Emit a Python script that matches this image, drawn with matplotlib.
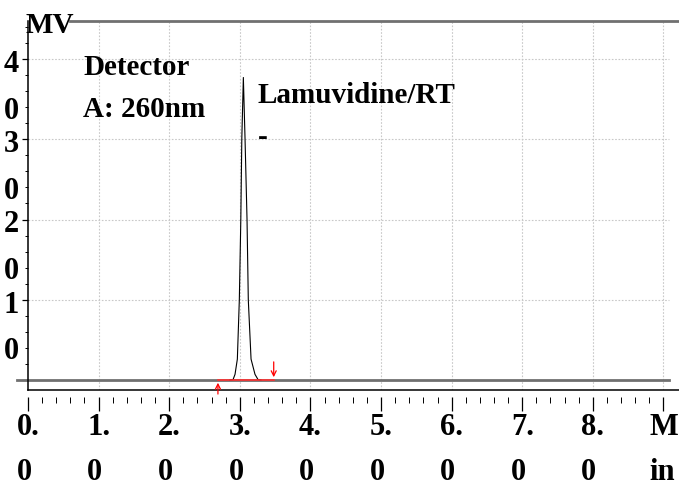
import matplotlib
matplotlib.use('Agg')
import matplotlib.pyplot as plt
from matplotlib.ticker import FixedLocator, NullFormatter

plt.rcParams['font.family'] = ['Liberation Serif', 'DejaVu Serif']
plt.rcParams['font.weight'] = 'bold'

# peak trace (time in min, signal in mV)
peak_time = [2.86, 2.904, 2.932, 2.965, 2.993, 3.014, 3.028, 3.050, 3.074, 3.102, 3.120, 3.159, 3.215, 3.258, 3.30]
peak_mv = [0.0, 0.05, 0.7, 2.6, 10.0, 20.0, 30.0, 37.7, 30.0, 20.0, 10.0, 2.6, 0.7, 0.05, 0.0]

# integration marks
peak_start = 2.69
peak_end = 3.48

x_ticks = [0, 1, 2, 3, 4, 5, 6, 7, 8, 9]
x_labels = ['0.\n0', '1.\n0', '2.\n0', '3.\n0', '4.\n0', '5.\n0', '6.\n0', '7.\n0', '8.\n0', 'M\nin']
y_ticks = [0, 10, 20, 30, 40]
y_labels = ['', '1\n0', '2\n0', '3\n0', '4\n0']

x_max = 9.22
y_min, y_max = -1.25, 44.74

fig = plt.figure(figsize=(6.79, 4.85), dpi=100)
ax = fig.add_axes([28 / 679, 1 - 391 / 485, 1 - 28 / 679, (391 - 22) / 485])
ax.set_xlim(0, x_max)
ax.set_ylim(y_min, y_max)

# grid
for t in x_ticks[1:]:
    ax.axvline(t, color='#c8c8c8', lw=0.8, ls=(0, (1.5, 1.5)), zorder=0)
for v in y_ticks[1:]:
    ax.plot([0, 9.08], [v, v], color='#c8c8c8', lw=0.8, ls=(0, (1.5, 1.5)), zorder=0)

# baseline and top frame line
ax.plot([-0.15, 9.08], [0, 0], color='#707070', lw=2.0, clip_on=False, zorder=2)
ax.plot([0.6, x_max], [y_max, y_max], color='#707070', lw=2.0, clip_on=False)

# signal
ax.plot(peak_time, peak_mv, color='black', lw=0.8, zorder=3)

# integration baseline and markers
ax.plot([peak_start, peak_end], [0, 0], color='#ff3030', lw=1.2, zorder=4)
ax.annotate('', xy=(peak_start, 0), xytext=(peak_start, -2.1),
            arrowprops=dict(arrowstyle='->', color='red', lw=0.9, mutation_scale=9),
            annotation_clip=False, zorder=5)
ax.annotate('', xy=(peak_end, 0), xytext=(peak_end, 2.6),
            arrowprops=dict(arrowstyle='->', color='red', lw=0.9, mutation_scale=9),
            annotation_clip=False, zorder=5)

# spines
for s in ['top', 'right']:
    ax.spines[s].set_visible(False)
ax.spines['left'].set_linewidth(1.1)
ax.spines['bottom'].set_visible(False)
ax.spines['bottom'].set_position(('outward', 5))
ax.plot([0, 1], [0, 0], transform=ax.transAxes, color='black', lw=1.1, clip_on=False)

# ticks
ax.xaxis.set_major_locator(FixedLocator(x_ticks))
ax.xaxis.set_minor_locator(FixedLocator([i * 0.2 for i in range(46) if i % 5 != 0]))
ax.set_xticklabels(x_labels)
ax.tick_params(axis='x', which='major', direction='out', length=10, width=0.9, pad=1, labelsize=22)
ax.tick_params(axis='x', which='minor', direction='out', length=4.5, width=0.7)
for lbl in ax.get_xticklabels():
    lbl.set_multialignment('left')
    lbl.set_linespacing(1.7)

ax.yaxis.set_major_locator(FixedLocator(y_ticks))
ax.yaxis.set_minor_locator(FixedLocator([v for v in range(2, 45, 2) if v % 10 != 0]))
ax.yaxis.set_major_formatter(NullFormatter())
ax.tick_params(axis='y', which='major', direction='out', length=4.5, width=0.9)
ax.tick_params(axis='y', which='minor', direction='out', length=2.5, width=0.7)
# stacked y labels, first digit centred on the tick
for v, lab in zip(y_ticks, y_labels):
    if lab:
        ax.text(-0.0135, v + 1.25, lab, transform=ax.get_yaxis_transform(),
                ha='right', va='top', fontsize=22, fontweight='bold', linespacing=1.8)

# annotations
fig.text(25 / 679, 1 - 33 / 485, 'MV', fontsize=21, fontweight='bold', ha='left', va='baseline')
fig.text(83 / 679, 1 - 54 / 485, 'Detector\nA: 260nm', fontsize=21, fontweight='bold',
         ha='left', va='top', linespacing=1.7)
fig.text(258 / 679, 1 - 82 / 485, 'Lamuvidine/RT\n-', fontsize=21, fontweight='bold',
         ha='left', va='top', linespacing=1.7)

fig.savefig('out.png', dpi=100)
